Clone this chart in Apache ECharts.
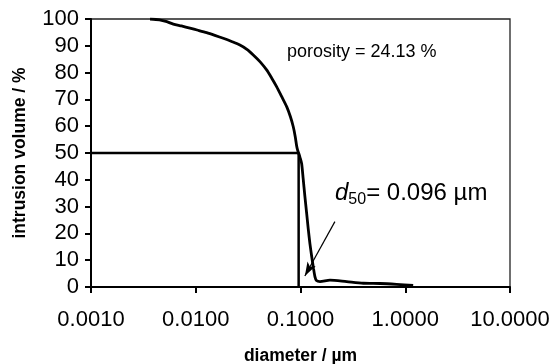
<!DOCTYPE html>
<html>
<head>
<meta charset="utf-8">
<script src="https://cdn.jsdelivr.net/npm/echarts@6/dist/echarts.min.js"></script>
<style>html,body{margin:0;padding:0;background:#fff;}#c{width:553px;height:364px;}</style>
</head>
<body>
<div id="c"></div>
<script>
// diameter (µm) and cumulative intrusion volume (%)
const diameter = [0.00366,0.0045,0.0053,0.00611,0.0073,0.0088,0.0105,0.0127,0.0152,0.0183,0.022,0.0264,0.031,0.0354,0.041,0.0475,0.053,0.0593,0.066,0.0738,0.0800,0.0853,0.089,0.092,0.094,0.096,0.099,0.1026,0.106,0.110,0.1145,0.1187,0.123,0.128,0.133,0.1375,0.142,0.1535,0.191,0.276,0.398,0.574,0.827,1.19];
const intrusion = [100,99.7,99.0,98.1,97.4,96.6,95.8,94.9,93.9,92.8,91.6,90.3,88.6,86.6,84.1,81,78.0,74.7,71.1,67.3,63.6,59.8,56.2,52.5,51.0,50,48.3,46,40.5,34,27.5,21.5,16.2,11.3,7.0,3.8,2.4,2.0,2.6,2.0,1.4,1.3,1.0,0.6];
const d50 = 0.096;
const d50Level = 50;
const xMin = 0.001, xMax = 10;
const yTicks = [0,10,20,30,40,50,60,70,80,90,100];
const arrowFrom = [0.213, 24.4];
const arrowTo = [0.110, 4.1];

const curve = diameter.map((d, i) => [d, intrusion[i]]);
const font = '"Liberation Sans", Arial, sans-serif';

const chart = echarts.init(document.getElementById('c'), null, {renderer: 'canvas'});
chart.setOption({
  animation: false,
  backgroundColor: '#fff',
  grid: {left: 91, right: 43, top: 19, bottom: 77, show: true, borderColor: '#222', borderWidth: 1.3,
    containLabel: false, outerBoundsMode: 'none'},
  xAxis: {
    type: 'log', logBase: 10, min: xMin, max: xMax,
    name: 'diameter / µm', nameLocation: 'middle', nameGap: 60,
    nameTextStyle: {fontFamily: font, fontWeight: 'bold', fontSize: 17.5, color: '#000'},
    axisLine: {show: true, onZero: false, lineStyle: {color: '#000', width: 2}},
    axisTick: {show: true, inside: false, length: 6, lineStyle: {color: '#000', width: 2}},
    minorTick: {show: false},
    splitLine: {show: false},
    axisLabel: {fontFamily: font, fontSize: 22, color: '#000', margin: 22,
      formatter: v => Number(v).toFixed(4)}
  },
  yAxis: {
    type: 'value', min: yTicks[0], max: yTicks[yTicks.length-1], interval: 10,
    name: 'intrusion volume / %', nameLocation: 'middle', nameGap: 62,
    nameTextStyle: {fontFamily: font, fontWeight: 'bold', fontSize: 17.5, color: '#000'},
    axisLine: {show: true, lineStyle: {color: '#000', width: 2}},
    axisTick: {show: true, inside: false, length: 6, lineStyle: {color: '#000', width: 2}},
    splitLine: {show: false},
    axisLabel: {fontFamily: font, fontSize: 22, color: '#000', margin: 12}
  },
  series: [
    {
      type: 'line', data: curve, showSymbol: false, symbol: 'none',
      smooth: 0.25,
      lineStyle: {color: '#000', width: 2.8}, z: 3,
      markLine: {
        silent: true, symbol: ['none', 'arrow'], symbolSize: [7, 14],
        label: {show: false},
        lineStyle: {color: '#000', width: 1.2, type: 'solid'},
        data: [[{coord: arrowFrom}, {coord: arrowTo}]]
      }
    },
    {
      type: 'line', data: [[xMin, d50Level], [d50, d50Level], [d50, 0]],
      showSymbol: false, symbol: 'none',
      lineStyle: {color: '#000', width: 2.5}, z: 2
    }
  ],
  graphic: [
    {type: 'text', left: 287, top: 43, style: {text: 'porosity = 24.13 %', font: '18px ' + font, fill: '#000'}},
    {type: 'text', left: 335, top: 181, style: {
      text: '{d|d}{s|50}{n|= 0.096 µm}',
      rich: {
        d: {fontFamily: font, fontStyle: 'italic', fontSize: 24, fill: '#000', verticalAlign: 'bottom'},
        s: {fontFamily: font, fontSize: 16, fill: '#000', verticalAlign: 'bottom', padding: [0,0,-3,0]},
        n: {fontFamily: font, fontSize: 24, fill: '#000', verticalAlign: 'bottom'}
      }
    }}
  ]
});
</script>
</body>
</html>
